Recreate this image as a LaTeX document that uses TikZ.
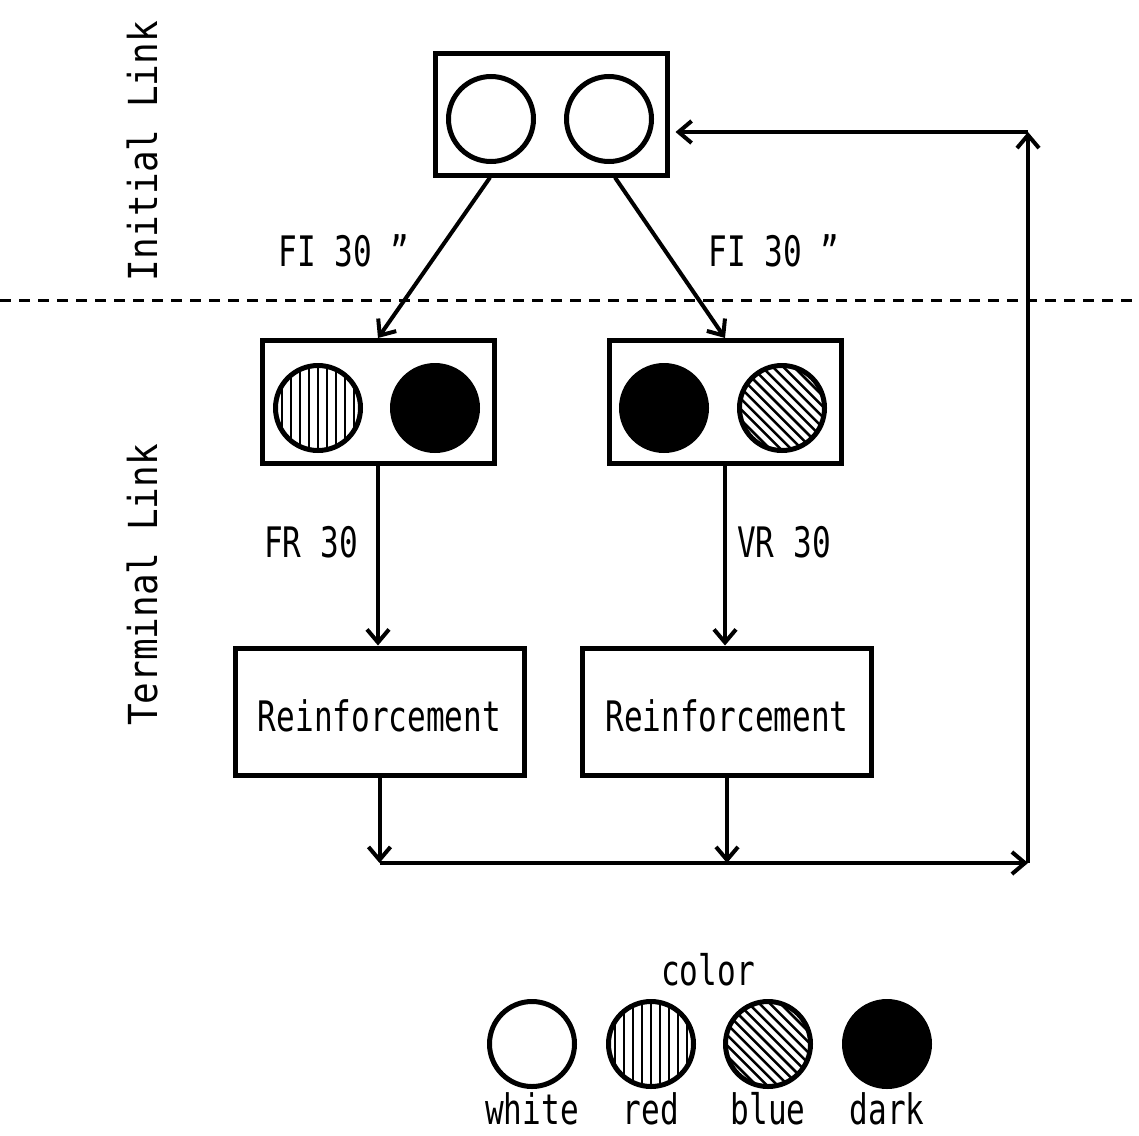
\documentclass[tikz,border=0pt]{standalone}
\usepackage{fontspec}
\setmonofont[FakeStretch=0.74]{DejaVu Sans Mono}
\newfontfamily\sidefont[FakeStretch=0.9]{DejaVu Sans Mono}
\usetikzlibrary{arrows.meta,positioning}

\tikzset{
  box/.style={draw, line width=5pt, inner sep=0pt, minimum width=232, minimum height=123},
  rbox/.style={draw, line width=5pt, inner sep=0pt, minimum width=289, minimum height=127,
    text height=40pt, text depth=0pt},
  lamp/.style={circle, draw, line width=5pt, inner sep=0pt, minimum size=85},
  darklamp/.style={lamp, fill=black},
  redlamp/.style={lamp, path picture={
      \foreach \k in {-5,...,5}
        \draw[line width=2.3pt] ([xshift=\k*9pt]path picture bounding box.north)
          -- ([xshift=\k*9pt]path picture bounding box.south);}},
  bluelamp/.style={lamp, path picture={
      \foreach \k in {-9,...,9}
        \draw[line width=2.5pt] ([shift={(\k*5.3pt-50pt,\k*5.3pt+50pt)}]path picture bounding box.center)
          -- ([shift={(\k*5.3pt+50pt,\k*5.3pt-50pt)}]path picture bounding box.center);}},
  lbl/.style={inner sep=0pt, text height=30pt, text depth=0pt},
  side/.style={lbl, rotate=90, font=\sidefont\fontsize{40}{44}\selectfont},
  conn/.style={->, line width=4pt}
}

\begin{document}
\begin{tikzpicture}[x=1pt,y=-1pt,>={Straight Barb[length=13pt,width=22pt]},
    font=\ttfamily\fontsize{42}{46}\selectfont]
  \useasboundingbox (0,0) rectangle (1139,1135);
  % initial link
  \node[box, minimum height=122] (init) at (551,114) {};
  \node[lamp] (initL) at (491,119) {};
  \node[lamp] (initR) at (609,119) {};
  % terminal link
  \node[box] (termL) at (378,402) {};
  \node[redlamp] (termLa) at (318,408) {};
  \node[darklamp] (termLb) at (435,408) {};
  \node[box] (termR) at (725,402) {};
  \node[darklamp] (termRa) at (664,408) {};
  \node[bluelamp] (termRb) at (782,408) {};
  \node[rbox] (reinL) at (379.5,711.5) {Reinforcement};
  \node[rbox] (reinR) at (727,711.5) {Reinforcement};
  % schedules
  \node[lbl] (fiL) at (344,251) {FI 30 ”};
  \node[lbl] (fiR) at (774,251) {FI 30 ”};
  \node[lbl] (fr) at (311,542) {FR 30};
  \node[lbl] (vr) at (784,542) {VR 30};
  \node[side] (initial) at (142,151) {Initial Link};
  \node[side] (terminal) at (142,585) {Terminal Link};
  \draw[dashed, line width=3pt, dash pattern=on 11pt off 8pt] (0,300) -- (1139,300);
  \coordinate (loopSE) at (1028,863);
  \coordinate (loopNE) at (1028,132);
  \draw[conn] ([xshift=-61pt]init.south) -- (termL.north);
  \draw[conn] ([xshift=64pt]init.south) -- (termR.north);
  \draw[conn] (termL.south) -- (termL.south |- reinL.north);
  \draw[conn] (termR.south) -- (termR.south |- reinR.north);
  \draw[conn] (reinL.south) -- (reinL.south |- loopSE);
  \draw[conn] (reinR.south) -- (reinR.south |- loopSE);
  \draw[conn] (reinL.south |- loopSE) -- (loopSE);
  \draw[conn] (loopSE) -- (loopNE);
  \draw[conn] (loopNE) -- ([xshift=6pt]init.east |- loopNE);
  % legend
  \node[lbl] (color) at (708,970) {color};
  \node[lamp] (kW) at (532,1044) {};
  \node[redlamp] (kR) at (651,1044) {};
  \node[bluelamp] (kB) at (768,1044) {};
  \node[darklamp] (kD) at (887,1044) {};
  \node[lbl, below=5pt of kW] (tW) {white};
  \node[lbl, below=5pt of kR] (tR) {red};
  \node[lbl, below=5pt of kB] (tB) {blue};
  \node[lbl, below=5pt of kD] (tD) {dark};
\end{tikzpicture}
\end{document}
